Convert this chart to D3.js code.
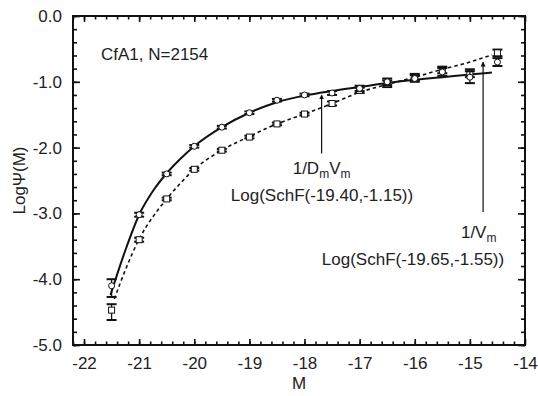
<!DOCTYPE html>
<html>
<head>
<meta charset="utf-8">
<script src="https://cdn.jsdelivr.net/npm/d3@7"></script>
<style>
  body { margin: 0; background: #fff; }
  svg text { font-family: "Liberation Sans", Arial, sans-serif; fill: #222; }
</style>
</head>
<body>
<svg id="chart" width="538" height="396"></svg>
<script>
// magnitude bins
const mags = [-21.5, -21, -20.5, -20, -19.5, -19, -18.5, -18, -17.5, -17, -16.5, -16, -15.5, -15, -14.5];

// 1/DmVm estimator (circles, solid fit)
const circVals = [-4.10, -3.02, -2.40, -1.98, -1.69, -1.47, -1.28, -1.20, -1.17, -1.10, -1.00, -0.95, -0.85, -0.93, -0.70];
const circUp   = [0.10, 0.03, 0.02, 0.02, 0.02, 0.02, 0.02, 0.02, 0.03, 0.04, 0.05, 0.05, 0.06, 0.09, 0.06];
const circDown = [0.17, 0.03, 0.02, 0.02, 0.02, 0.02, 0.02, 0.02, 0.03, 0.04, 0.05, 0.05, 0.06, 0.09, 0.06];

// 1/Vm estimator (squares, dashed fit)
const sqVals = [-4.47, -3.40, -2.78, -2.33, -2.04, -1.84, -1.64, -1.49, -1.33, -1.13, -1.03, -0.93, -0.82, -0.87, -0.56];
const sqUp   = [0.09, 0.03, 0.02, 0.02, 0.02, 0.02, 0.02, 0.02, 0.03, 0.04, 0.05, 0.05, 0.05, 0.06, 0.05];
const sqDown = [0.15, 0.03, 0.02, 0.02, 0.02, 0.02, 0.02, 0.02, 0.03, 0.04, 0.05, 0.05, 0.05, 0.06, 0.05];

// fitted curves: SchF(-19.40,-1.15) and SchF(-19.65,-1.55)
const solidFitM = [-21.52, -21.25, -21, -20.75, -20.5, -20.25, -20, -19.5, -19, -18.5, -18, -17.5, -17, -16.5, -16, -15.5, -15, -14.6];
const solidFitV = [-4.24, -3.56, -3.02, -2.66, -2.39, -2.17, -1.98, -1.69, -1.47, -1.31, -1.21, -1.14, -1.08, -1.02, -0.97, -0.93, -0.89, -0.86];
const dashFitM = [-21.45, -21.25, -21, -20.75, -20.5, -20.25, -20, -19.5, -19, -18.5, -18, -17.5, -17, -16.5, -16, -15.5, -15, -14.6];
const dashFitV = [-4.30, -3.86, -3.39, -3.05, -2.78, -2.54, -2.33, -2.04, -1.83, -1.64, -1.49, -1.33, -1.16, -1.04, -0.93, -0.81, -0.70, -0.59];

const xTicks = [-22, -21, -20, -19, -18, -17, -16, -15, -14];
const yTicks = [0, -1, -2, -3, -4, -5];

const width = 538, height = 396;
const margin = {top: 16, right: 13, bottom: 51, left: 73};

const svg = d3.select('#chart');
const x = d3.scaleLinear().domain([-22.2, -14]).range([margin.left, width - margin.right]);
const y = d3.scaleLinear().domain([-5, 0]).range([height - margin.bottom, margin.top]);

const xMinor = d3.range(-22.2, -14.001, 0.2).map(d => +d.toFixed(1));
const yMinor = d3.range(-5, 0.001, 0.2).map(d => +d.toFixed(1));

function drawAxis(axis, transform, labels) {
  let g = svg.append('g').attr('transform', transform).call(axis);
  g.select('.domain').remove();
  g.selectAll('.tick line').attr('stroke', '#111').attr('stroke-width', 1.6);
  if (!labels) g.selectAll('text').remove();
  return g;
}

let b = height - margin.bottom, r = width - margin.right;
// majors
let gx = drawAxis(d3.axisBottom(x).tickValues(xTicks).tickSize(-6).tickPadding(12).tickFormat(d => String(d)), `translate(0,${b})`, true);
let gy = drawAxis(d3.axisLeft(y).tickValues(yTicks).tickSize(-7).tickPadding(11).tickFormat(d => d.toFixed(1)), `translate(${margin.left},0)`, true);
drawAxis(d3.axisTop(x).tickValues(xTicks).tickSize(-6), `translate(0,${margin.top})`, false);
drawAxis(d3.axisRight(y).tickValues(yTicks).tickSize(-7), `translate(${r},0)`, false);
// minors
drawAxis(d3.axisBottom(x).tickValues(xMinor).tickSize(-3.5), `translate(0,${b})`, false);
drawAxis(d3.axisTop(x).tickValues(xMinor).tickSize(-3.5), `translate(0,${margin.top})`, false);
drawAxis(d3.axisLeft(y).tickValues(yMinor).tickSize(-4), `translate(${margin.left},0)`, false);
drawAxis(d3.axisRight(y).tickValues(yMinor).tickSize(-4), `translate(${r},0)`, false);

gx.selectAll('text').attr('font-size', 17).attr('fill', '#222');
gy.selectAll('text').attr('font-size', 17).attr('fill', '#222');

// frame
svg.append('rect')
  .attr('x', margin.left).attr('y', margin.top)
  .attr('width', r - margin.left).attr('height', b - margin.top)
  .attr('fill', 'none').attr('stroke', '#111').attr('stroke-width', 2);

// fit curves
const line = d3.line().x(d => x(d[0])).y(d => y(d[1])).curve(d3.curveMonotoneX);
svg.append('path')
  .datum(solidFitM.map((m, i) => [m, solidFitV[i]]))
  .attr('d', line).attr('fill', 'none').attr('stroke', '#111').attr('stroke-width', 2);
svg.append('path')
  .datum(dashFitM.map((m, i) => [m, dashFitV[i]]))
  .attr('d', line).attr('fill', 'none').attr('stroke', '#111').attr('stroke-width', 1.6)
  .attr('stroke-dasharray', '3.5,3');

// error bars + markers
function drawSeries(vals, up, down, shape) {
  let data = mags.map((m, i) => ({m: m, v: vals[i], hi: vals[i] + up[i], lo: vals[i] - down[i]}));
  let g = svg.append('g');
  let pts = g.selectAll('g').data(data).join('g');
  pts.append('line')
    .attr('x1', d => x(d.m)).attr('x2', d => x(d.m))
    .attr('y1', d => y(d.hi)).attr('y2', d => y(d.lo))
    .attr('stroke', '#111').attr('stroke-width', 1.3);
  ['hi', 'lo'].forEach(k => {
    pts.append('line')
      .attr('x1', d => x(d.m) - 5).attr('x2', d => x(d.m) + 5)
      .attr('y1', d => y(d[k])).attr('y2', d => y(d[k]))
      .attr('stroke', '#111').attr('stroke-width', 2);
  });
  if (shape === 'circle') {
    pts.append('circle')
      .attr('cx', d => x(d.m)).attr('cy', d => y(d.v)).attr('r', 3)
      .attr('fill', '#fff').attr('stroke', '#111').attr('stroke-width', 1);
  } else {
    pts.append('rect')
      .attr('x', d => x(d.m) - 3).attr('y', d => y(d.v) - 3)
      .attr('width', 6).attr('height', 6)
      .attr('fill', '#fff').attr('stroke', '#111').attr('stroke-width', 1);
  }
}
drawSeries(sqVals, sqUp, sqDown, 'square');
drawSeries(circVals, circUp, circDown, 'circle');

// arrows
svg.append('defs').append('marker')
  .attr('id', 'arrow').attr('viewBox', '0 0 10 10').attr('refX', 9).attr('refY', 5)
  .attr('markerWidth', 5).attr('markerHeight', 7).attr('markerUnits', 'userSpaceOnUse')
  .attr('orient', 'auto')
  .append('path').attr('d', 'M0,0L10,5L0,10Z').attr('fill', '#111');

function arrow(m, v0, v1) {
  svg.append('line')
    .attr('x1', x(m)).attr('x2', x(m)).attr('y1', y(v0)).attr('y2', y(v1))
    .attr('stroke', '#111').attr('stroke-width', 1.2).attr('marker-end', 'url(#arrow)');
}
arrow(-17.69, -2.09, -1.20);
arrow(-14.76, -2.98, -0.70);

// labels
function subLabel(xp, yp, parts) {
  let t = svg.append('text').attr('x', xp).attr('y', yp).attr('font-size', 17).attr('text-anchor', 'middle');
  parts.forEach(p => {
    if (p.sub) {
      t.append('tspan').attr('font-size', 12).attr('dy', 4).text(p.t);
    } else {
      t.append('tspan').attr('dy', p.back ? -4 : 0).text(p.t);
    }
  });
}
subLabel(x(-17.69), 174, [{t: '1/D'}, {t: 'm', sub: true}, {t: 'V', back: true}, {t: 'm', sub: true}]);
subLabel(x(-14.84), 238, [{t: '1/V'}, {t: 'm', sub: true}]);

svg.append('text').attr('x', 322).attr('y', 201).attr('text-anchor', 'middle').attr('font-size', 17)
  .text('Log(SchF(-19.40,-1.15))');
svg.append('text').attr('x', 413).attr('y', 265).attr('text-anchor', 'middle').attr('font-size', 17)
  .text('Log(SchF(-19.65,-1.55))');

svg.append('text').attr('x', 101).attr('y', 60).attr('font-size', 17).text('CfA1, N=2154');

svg.append('text').attr('x', (margin.left + r) / 2).attr('y', 389).attr('text-anchor', 'middle')
  .attr('font-size', 17).text('M');
svg.append('text').attr('transform', `translate(25,${(margin.top + b) / 2}) rotate(-90)`)
  .attr('text-anchor', 'middle').attr('font-size', 17).text('LogΨ(M)');
</script>
</body>
</html>
